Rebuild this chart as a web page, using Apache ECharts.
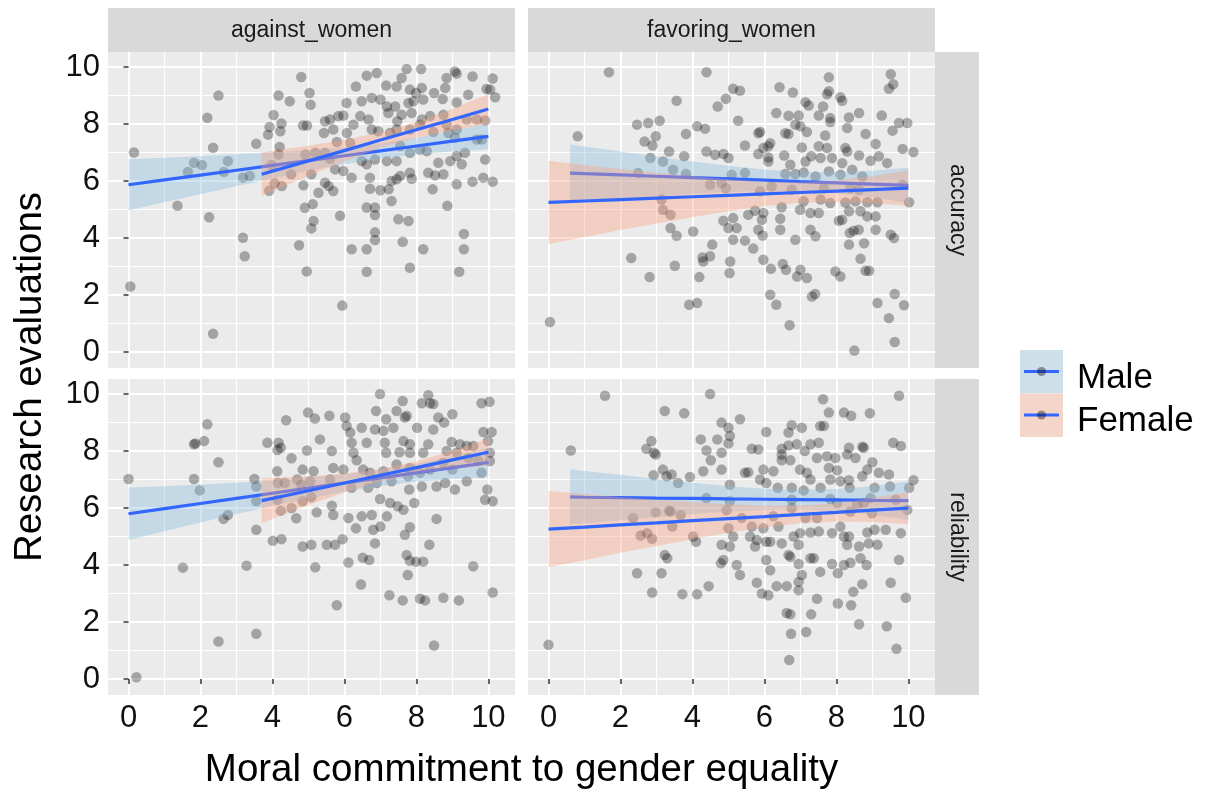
<!DOCTYPE html>
<html>
<head>
<meta charset="utf-8">
<script src="https://cdn.jsdelivr.net/npm/echarts@6/dist/echarts.min.js"></script>
<style>
  html, body { margin: 0; padding: 0; background: #ffffff; }
  #chart { width: 1207px; height: 793px; }
</style>
</head>
<body>
<div id="chart"></div>
<script>
// ---------------- DATA ----------------
const colFacets = ['against_women', 'favoring_women'];
const rowFacets = ['accuracy', 'reliability'];
const legendLabels = ['Male', 'Female'];
const tickValues = [0, 2, 4, 6, 8, 10];
const xTitle = 'Moral commitment to gender equality';
const yTitle = 'Research evaluations';

// scatter points [moral commitment, evaluation]
const ptsAccAgainst = [
[0.15,7.0],[0.05,2.3],[1.36,5.13],[2.19,8.22],[2.5,9.0],[2.35,7.17],[1.82,6.64],[1.65,6.32],[2.04,6.56],[2.24,4.73],[2.35,0.64],[2.65,6.32],[2.76,6.7],[3.18,6.12],[3.37,6.18],[3.18,4.01],[3.23,3.36],[3.55,7.31],[3.88,7.63],[3.92,7.9],[4.03,8.32],[4.17,9.0],[4.48,8.8],[4.8,9.65],[4.25,8.02],[4.22,7.75],[4.2,7.2],[4.17,6.93],[3.98,6.56],[4.06,5.92],[3.91,5.66],[4.26,5.83],[4.52,6.24],[4.85,7.95],[4.96,7.95],[4.86,5.85],[4.9,5.06],[4.74,3.75],[4.95,2.83],[4.92,6.93],[5.03,9.09],[5.06,8.68],[5.08,6.24],[5.08,4.34],
[7.73,9.93],[8.13,9.93],[7.59,9.62],[6.62,9.7],[6.9,9.79],[6.32,9.32],[7.16,9.35],[7.45,9.32],[7.82,9.21],[7.99,9.09],[8.15,9.27],[8.84,9.62],[9.12,9.77],[9.07,9.85],[9.56,9.67],[10.12,9.6],[9.95,9.23],[10.05,9.21],[10.19,8.94],[8.8,9.27],[8.49,9.09],[8.73,8.88],[9.44,9.03],[9.12,8.76],
[6.06,8.74],[6.48,8.8],[6.76,8.92],[7.0,8.86],[7.18,8.62],[7.41,8.62],[7.78,8.74],[8.19,8.86],[7.92,8.8],
[5.46,8.1],[5.6,8.16],[5.83,8.28],[5.97,8.3],[6.25,7.98],[6.44,8.28],[6.67,8.16],[6.76,7.81],[7.22,8.39],[7.47,8.1],[7.59,8.33],[7.87,8.39],[8.15,8.16],[8.38,8.28],[8.75,8.33],
[5.43,7.69],[5.69,7.81],[6.07,7.69],[6.94,7.75],[7.27,7.69],[7.45,7.81],[7.82,7.81],[8.1,7.98],[8.47,7.72],[8.84,7.98],[9.12,7.81],[9.4,8.16],[9.68,8.16],[9.91,8.13],[8.89,7.69],[9.07,7.52],
[5.79,7.37],[6.16,7.34],[5.19,6.99],[5.46,6.99],[5.6,6.78],[5.74,6.41],[5.97,6.35],[6.2,6.12],[6.48,6.7],[6.62,6.59],[6.85,6.76],[7.18,6.7],[7.45,6.7],[7.55,7.23],[7.82,6.99],[8.1,7.11],[8.29,7.05],[8.61,6.64],[8.94,6.7],[9.12,6.88],[9.26,6.59],[9.35,6.99],[9.91,6.76],[9.68,7.46],[9.82,7.46],
[5.46,5.94],[5.56,5.83],[5.69,5.65],[5.28,5.59],[5.12,5.19],[6.71,6.12],[6.71,5.73],[7.0,5.68],[7.23,5.71],[7.31,6.0],[7.45,6.06],[7.55,6.18],[7.87,6.08],[7.82,6.29],[8.33,6.29],[8.52,6.2],[8.75,6.24],[9.12,5.89],[9.56,5.98],[9.86,6.12],[10.12,5.98],[8.45,5.71],[7.31,5.3],
[5.88,4.78],[5.14,4.6],[6.62,5.07],[6.85,5.07],[6.85,4.81],[7.5,4.66],[7.78,4.6],[8.86,5.13],[6.85,4.2],[6.85,3.93],[7.62,3.87],[6.2,3.61],[6.62,3.61],[8.19,3.61],[9.32,4.14],[9.32,3.61],[6.62,2.82],[7.82,2.96],[9.19,2.82],[5.94,1.63]
];

const ptsRelAgainst = [
[0.0,7.02],[0.22,0.06],[1.51,3.91],[2.19,8.94],[1.86,8.27],[1.82,8.24],[2.1,8.35],[2.5,7.61],[1.82,7.02],[1.98,6.62],[2.64,5.62],[2.76,5.76],[2.5,1.32],[3.28,3.98],[3.55,1.59],[3.5,7.02],[3.55,6.76],[3.55,6.24],[3.55,5.24],[3.86,8.29],[4.17,8.29],[4.14,8.04],[4.23,8.12],[4.38,9.08],[4.53,7.75],[4.13,7.29],[4.84,7.35],[4.96,8.02],[4.99,9.35],[4.15,6.88],[4.34,6.88],[4.69,7.0],[4.8,6.82],[4.14,6.29],[4.23,5.91],[4.53,6.0],[4.66,5.64],[4.84,6.24],[4.01,4.85],[4.25,4.91],[4.84,4.65],[5.08,4.71],[5.08,6.39],
[6.99,10.0],[8.33,9.96],[8.38,9.68],[7.62,9.76],[8.15,9.68],[8.47,9.65],[9.81,9.68],[10.03,9.73],[6.88,9.41],[7.45,9.41],[7.16,9.12],[7.68,9.18],[7.73,9.24],[8.61,9.18],[9.0,9.29],[8.77,9.0],[5.58,9.24],[5.18,9.14],[6.02,9.18],[6.06,8.88],[6.48,8.82],[6.85,8.76],[7.08,8.71],[7.36,8.82],[8.02,8.82],[8.47,8.76],[6.16,8.65],[9.86,8.67],[10.09,8.67],[5.32,8.41],
[6.2,8.29],[6.62,8.29],[7.12,8.29],[7.64,8.35],[7.82,8.24],[8.33,8.24],[8.98,8.32],[9.21,8.24],[9.4,8.18],[9.58,8.18],[9.99,8.35],[5.65,8.0],[6.25,7.94],[7.16,7.94],[7.53,7.96],[7.82,7.94],[8.19,7.94],[8.84,8.0],[9.12,7.94],[10.04,7.94],[6.34,7.68],
[5.14,7.29],[5.69,7.41],[5.97,7.35],[6.52,7.35],[6.71,7.24],[7.08,7.29],[7.45,7.53],[7.82,7.41],[8.1,7.24],[8.38,7.35],[8.75,7.59],[9.0,7.35],[9.44,7.76],[9.72,7.65],[10.04,7.65],[9.81,7.24],[5.05,6.94],[5.6,7.0],[6.2,6.71],[6.66,6.71],[6.9,6.88],[7.31,6.94],[7.77,7.12],[7.8,6.65],[8.15,6.76],[8.56,6.76],[8.8,6.88],[9.07,6.65],[9.4,6.94],[9.97,6.65],[9.91,6.29],[10.12,6.24],[6.99,6.32],
[5.23,5.85],[5.65,6.08],[5.69,5.76],[6.11,5.65],[6.48,5.71],[6.76,5.76],[6.32,5.29],[6.8,5.24],[7.0,5.35],[7.18,5.71],[7.27,6.18],[7.48,6.06],[7.64,5.94],[7.94,6.18],[8.56,5.62],[7.82,5.33],[7.68,5.06],
[5.51,4.71],[5.74,4.71],[5.95,4.91],[6.85,4.76],[8.36,4.71],[5.19,3.92],[6.11,4.09],[6.51,4.26],[6.69,4.18],[7.73,4.35],[7.82,4.15],[7.99,4.12],[8.19,4.12],[7.76,3.65],[9.58,3.96],[6.46,3.32],[5.79,2.59],[7.25,2.94],[7.62,2.76],[8.1,2.82],[8.24,2.76],[8.75,2.85],[9.18,2.76],[10.12,3.04],[8.49,1.18]
];

const ptsAccFavoring = [
[0.04,1.05],[1.68,9.82],[0.81,7.57],[4.39,9.82],[3.56,8.82],[4.7,8.62],[4.93,8.89],[2.46,7.98],[2.77,8.04],[3.09,8.12],[3.82,7.65],[4.13,7.92],[4.35,7.84],[2.67,7.39],[2.89,7.25],[2.98,7.57],[2.83,6.81],[3.18,6.69],[3.35,7.04],[3.77,6.87],[4.39,7.04],[4.63,6.92],[4.86,6.95],[5.0,6.81],[2.49,6.28],[3.46,6.4],[3.82,6.25],[4.49,5.87],[4.81,5.93],[4.93,5.75],[3.14,5.35],[3.18,4.99],[3.39,4.82],[3.39,4.35],[3.56,4.08],[4.02,4.23],[4.86,4.61],[5.0,4.35],[4.55,3.77],[4.49,3.36],[4.28,3.32],[4.3,3.18],[2.3,3.3],[3.51,3.03],[2.81,2.63],[4.19,2.63],[3.91,1.66],[4.13,1.72],[5.03,2.77],[5.05,3.18],
[7.79,9.64],[9.51,9.75],[9.46,9.24],[9.58,9.4],[6.42,9.29],[6.79,9.11],[5.13,9.24],[5.32,9.17],[7.74,9.05],[7.79,9.15],[8.11,8.94],[8.16,8.82],[7.14,8.77],[7.23,8.65],[7.63,8.62],[6.33,8.39],[6.67,8.29],[6.95,8.3],[7.51,8.3],[7.83,8.21],[8.35,8.23],[8.63,8.39],[9.26,8.3],[5.27,8.12],[6.86,7.98],[7.0,7.92],[7.83,8.07],[8.3,7.86],[9.74,8.04],[9.97,8.04],[9.56,7.77],[5.83,7.68],[5.88,7.72],[6.58,7.68],[6.67,7.65],[7.18,7.72],[7.69,7.6],[8.81,7.65],[6.16,7.33],[6.11,7.22],[5.46,7.25],[5.97,7.16],[7.04,7.18],[7.51,7.22],[7.74,7.16],[8.25,7.16],[9.09,7.3],[9.84,7.13],[10.14,7.02],[5.83,6.95],[6.11,6.83],[6.55,6.9],[7.3,6.87],[7.56,6.81],[7.88,6.81],[8.3,7.04],[8.63,6.9],[8.95,6.71],[9.18,6.87],[9.41,6.63],[6.11,6.69],[6.72,6.57],[7.14,6.69],[8.16,6.63],
[5.46,6.28],[6.58,6.25],[6.86,6.25],[7.09,6.3],[7.42,6.16],[7.79,6.34],[8.11,6.22],[8.44,6.4],[8.72,6.16],[5.09,6.22],[5.88,5.64],[6.2,5.81],[6.76,5.7],[7.65,5.75],[8.39,5.75],[8.63,5.7],[9.84,5.87],[10.02,5.26],[7.09,5.29],[7.56,5.35],[7.83,5.23],[8.25,5.25],[8.53,5.29],[8.86,5.26],[9.14,5.26],
[5.74,4.96],[5.97,4.88],[6.48,5.08],[6.99,4.99],[7.28,4.88],[7.51,4.88],[5.55,4.82],[5.13,4.7],[5.93,4.64],[6.44,4.68],[8.07,4.61],[8.16,4.64],[8.35,4.94],[8.67,4.94],[8.86,4.76],[9.09,4.76],[5.23,4.35],[5.83,4.29],[6.44,4.29],[7.28,4.29],[8.37,4.18],[8.48,4.26],[8.62,4.29],[9.09,4.29],[5.13,3.94],[5.46,3.91],[5.95,4.09],[6.86,3.94],[7.42,4.06],[8.35,3.77],[8.77,3.82],[9.51,4.12],[9.6,4.0],[5.69,3.63],[5.97,3.24],[6.18,2.92],[6.51,3.09],[6.6,2.89],[6.91,2.65],[7.0,2.89],[7.18,2.6],[7.97,2.83],[8.11,2.65],[8.67,3.27],[8.81,2.85],[8.91,2.85],[6.16,2.01],[6.33,1.66],[7.32,1.95],[7.41,2.04],[6.7,0.94],[8.5,0.05],[9.14,1.72],[9.62,2.04],[9.88,1.64],[9.46,1.19],[9.62,0.35]
];

const ptsRelFavoring = [
[0.0,1.2],[0.62,8.02],[1.57,9.94],[3.23,9.41],[3.77,9.33],[4.49,10.0],[4.81,9.0],[5.0,8.82],[2.86,8.35],[2.72,8.08],[2.93,7.94],[2.98,7.88],[4.23,8.41],[4.69,8.41],[4.39,8.02],[4.51,7.68],[4.81,7.94],[5.0,8.27],[2.92,7.15],[3.18,7.35],[3.28,7.12],[3.42,7.18],[3.6,6.88],[3.93,7.09],[4.3,7.29],[4.81,7.35],[4.39,6.35],[2.35,5.65],[2.98,5.85],[3.35,5.91],[3.39,5.88],[3.67,5.76],[3.44,5.35],[2.56,5.04],[2.74,5.12],[2.88,4.92],[4.02,5.0],[4.1,4.82],[4.95,5.92],[5.0,5.29],[4.81,4.71],[3.23,4.35],[3.3,4.24],[4.79,4.06],[4.86,4.18],[2.46,3.71],[3.14,3.71],[2.88,3.04],[3.72,2.98],[4.13,2.98],[4.45,3.26],
[7.63,9.82],[9.74,9.94],[7.79,9.35],[8.21,9.35],[8.41,9.24],[8.93,9.33],[5.32,9.12],[5.04,8.53],[6.05,8.67],[6.76,8.91],[7.04,8.82],[7.55,8.88],[7.65,8.88],[6.67,8.65],[5.65,8.08],[5.83,8.06],[6.48,8.08],[6.67,8.2],[6.9,8.24],[7.28,8.24],[7.51,8.29],[8.72,8.15],[8.76,8.12],[8.35,8.12],[9.58,8.29],[9.79,8.18],[6.48,7.88],[7.12,8.0],[8.3,7.88],[8.53,7.76],[6.48,7.68],[6.72,7.68],[7.46,7.76],[7.74,7.82],[7.97,7.76],[9.0,7.61],[5.97,7.35],[6.25,7.29],[5.46,7.24],[5.55,7.26],[6.99,7.35],[7.18,7.24],[7.79,7.41],[8.02,7.33],[8.86,7.35],[9.18,7.24],[9.46,7.18],[5.04,6.82],[5.88,7.0],[6.05,6.88],[6.37,6.71],[6.76,6.71],[7.09,6.62],[7.28,7.0],[7.56,6.71],[7.83,7.0],[8.11,6.94],[8.37,6.71],[8.35,6.98],[8.72,7.12],[9.06,6.71],[9.49,6.76],[10.02,6.71],[10.14,6.98],
[5.04,6.24],[5.37,5.65],[6.25,5.71],[6.76,6.29],[6.76,6.0],[7.14,5.65],[7.46,5.65],[7.83,6.32],[8.02,6.18],[8.39,5.88],[8.58,6.12],[8.76,6.18],[8.99,5.82],[9.65,6.29],[9.97,5.94],[8.95,6.35],
[5.65,5.35],[5.97,5.29],[6.39,5.35],[8.11,5.35],[9.06,5.24],[9.37,5.24],[5.13,5.0],[5.6,5.0],[5.79,4.88],[6.05,4.82],[6.16,4.82],[6.48,4.76],[6.81,5.0],[6.99,5.12],[7.28,5.14],[7.51,5.18],[7.88,5.12],[8.21,5.0],[8.35,5.0],[8.86,5.14],[8.9,4.76],[9.14,4.71],[9.79,5.12],[5.04,4.65],[5.74,4.65],[6.95,4.71],[8.3,4.71],[8.63,4.65],
[5.23,4.0],[6.05,4.18],[6.67,4.35],[6.72,4.29],[7.28,4.24],[7.37,4.24],[6.95,4.04],[7.88,4.04],[8.21,4.0],[8.39,4.08],[8.67,4.24],[8.84,4.0],[9.74,4.18],[5.32,3.65],[6.16,3.82],[7.04,3.65],[7.55,3.76],[8.04,3.71],[5.79,3.38],[6.34,3.26],[6.62,3.26],[6.95,3.41],[8.72,3.33],[9.51,3.38],[5.93,3.0],[6.11,2.94],[6.95,3.12],[8.47,3.06],[7.46,2.82],[8.04,2.65],[8.41,2.59],[9.93,2.85],[6.62,2.32],[6.72,2.27],[7.3,2.27],[8.63,1.92],[9.4,1.85],[6.74,1.59],[7.16,1.65],[9.67,1.06],[6.69,0.67]
];

// smooth fits (x stops, fitted value, lower / upper confidence band)
const xFull = [0,1,2,3,4,5,6,7,8,9,10];
const xFemaleAgainst = [3.7,4,5,6,7,8,9,10];
const xMaleFavoring = [0.6,1,2,3,4,5,6,7,8,9,10];

const accAgainstMaleFit = [5.87,6.04,6.21,6.38,6.55,6.72,6.89,7.06,7.23,7.40,7.57];
const accAgainstMaleHi  = [6.77,6.82,6.88,6.94,7.01,7.08,7.19,7.33,7.53,7.76,8.03];
const accAgainstMaleLo  = [4.97,5.26,5.54,5.82,6.09,6.36,6.59,6.79,6.93,7.04,7.11];
const accAgainstFemaleFit = [6.24,6.35,6.71,7.07,7.44,7.80,8.16,8.53];
const accAgainstFemaleHi  = [7.00,7.06,7.24,7.45,7.71,8.07,8.54,9.06];
const accAgainstFemaleLo  = [5.48,5.64,6.18,6.69,7.17,7.53,7.78,8.00];

const relAgainstMaleFit = [5.80,5.98,6.16,6.34,6.52,6.70,6.88,7.06,7.24,7.42,7.60];
const relAgainstMaleHi  = [6.72,6.77,6.83,6.89,6.97,7.07,7.19,7.35,7.56,7.82,8.12];
const relAgainstMaleLo  = [4.88,5.19,5.49,5.79,6.07,6.33,6.57,6.77,6.92,7.02,7.08];
const relAgainstFemaleFit = [6.26,6.34,6.61,6.88,7.15,7.42,7.69,7.96];
const relAgainstFemaleHi  = [7.05,7.06,7.11,7.21,7.37,7.64,8.01,8.43];
const relAgainstFemaleLo  = [5.47,5.62,6.11,6.55,6.93,7.20,7.37,7.49];

const accFavoringMaleFit = [6.28,6.26,6.22,6.17,6.12,6.08,6.03,5.98,5.94,5.89,5.85];
const accFavoringMaleHi  = [7.28,7.21,7.04,6.86,6.69,6.54,6.41,6.32,6.31,6.36,6.47];
const accFavoringMaleLo  = [5.28,5.31,5.40,5.48,5.55,5.62,5.65,5.64,5.57,5.42,5.23];
const accFavoringFemaleFit = [5.25,5.30,5.35,5.40,5.45,5.50,5.55,5.60,5.65,5.70,5.75];
const accFavoringFemaleHi  = [6.71,6.56,6.42,6.29,6.17,6.06,5.98,5.96,6.03,6.18,6.37];
const accFavoringFemaleLo  = [3.79,4.04,4.28,4.51,4.73,4.94,5.12,5.24,5.27,5.22,5.13];

const relFavoringMaleFit = [6.39,6.38,6.37,6.35,6.34,6.32,6.31,6.30,6.29,6.27,6.26];
const relFavoringMaleHi  = [7.36,7.30,7.17,7.02,6.89,6.77,6.68,6.64,6.67,6.77,6.94];
const relFavoringMaleLo  = [5.42,5.46,5.57,5.68,5.79,5.87,5.94,5.96,5.91,5.77,5.58];
const relFavoringFemaleFit = [5.26,5.33,5.41,5.48,5.56,5.63,5.70,5.78,5.85,5.93,6.00];
const relFavoringFemaleHi  = [6.60,6.49,6.39,6.29,6.21,6.13,6.08,6.09,6.17,6.35,6.57];
const relFavoringFemaleLo  = [3.92,4.17,4.43,4.67,4.91,5.13,5.32,5.47,5.53,5.51,5.43];

// ---------------- STYLE / LAYOUT ----------------
const FONT = '"Liberation Sans", Arial, Helvetica, sans-serif';
const LINE_COLOR = '#3366FF';
const MALE_FILL = 'rgba(135,190,220,0.38)';
const FEMALE_FILL = 'rgba(250,160,130,0.38)';
const POINT_COLOR = 'rgba(0,0,0,0.38)';
const PANEL_W = 407, PANEL_H = 316;
const panelLeft = [108, 528];
const panelTop = [52, 379];
const X_MIN = -0.57, X_MAX = 10.74, Y_MIN = -0.56, Y_MAX = 10.53;
const TICK_FONT = 31;
const LINE_W = 3.2;

const chart = echarts.init(document.getElementById('chart'), null, {renderer: 'canvas'});

const grids = [], xAxes = [], yAxes = [], series = [];

const panels = [
  {row: 0, col: 0, pts: ptsAccAgainst,
   male: [xFull, accAgainstMaleFit, accAgainstMaleLo, accAgainstMaleHi],
   female: [xFemaleAgainst, accAgainstFemaleFit, accAgainstFemaleLo, accAgainstFemaleHi]},
  {row: 0, col: 1, pts: ptsAccFavoring,
   male: [xMaleFavoring, accFavoringMaleFit, accFavoringMaleLo, accFavoringMaleHi],
   female: [xFull, accFavoringFemaleFit, accFavoringFemaleLo, accFavoringFemaleHi]},
  {row: 1, col: 0, pts: ptsRelAgainst,
   male: [xFull, relAgainstMaleFit, relAgainstMaleLo, relAgainstMaleHi],
   female: [xFemaleAgainst, relAgainstFemaleFit, relAgainstFemaleLo, relAgainstFemaleHi]},
  {row: 1, col: 1, pts: ptsRelFavoring,
   male: [xMaleFavoring, relFavoringMaleFit, relFavoringMaleLo, relFavoringMaleHi],
   female: [xFull, relFavoringFemaleFit, relFavoringFemaleLo, relFavoringFemaleHi]}
];

function bandSeries(idx, xs, lo, hi, color, z) {
  return {
    type: 'custom', xAxisIndex: idx, yAxisIndex: idx, z: z, silent: true,
    data: xs.map((x, i) => [x, lo[i], hi[i]]),
    encode: {x: 0, y: [1, 2]},
    renderItem: function (params, api) {
      if (params.dataIndex !== 0) return null;
      const pts = [];
      for (let i = 0; i < xs.length; i++) pts.push(api.coord([xs[i], hi[i]]));
      for (let i = xs.length - 1; i >= 0; i--) pts.push(api.coord([xs[i], lo[i]]));
      return {type: 'polygon', shape: {points: pts}, style: {fill: color}};
    }
  };
}
function fitSeries(idx, xs, fit, z) {
  return {
    type: 'line', xAxisIndex: idx, yAxisIndex: idx, z: z, silent: true,
    data: xs.map((x, i) => [x, fit[i]]),
    showSymbol: false, symbol: 'none',
    lineStyle: {color: LINE_COLOR, width: LINE_W}
  };
}

panels.forEach((p, idx) => {
  const bottom = p.row === 1;
  const left = p.col === 0;
  grids.push({left: panelLeft[p.col], top: panelTop[p.row], width: PANEL_W, height: PANEL_H,
              show: true, backgroundColor: '#EBEBEB', borderWidth: 0, containLabel: false});
  xAxes.push({
    type: 'value', gridIndex: idx, min: X_MIN, max: X_MAX,
    axisLine: {show: false},
    axisTick: {show: bottom, customValues: tickValues, length: 5, lineStyle: {color: '#333333', width: 1.5}},
    axisLabel: {show: bottom, customValues: tickValues, fontSize: TICK_FONT, color: '#111111', fontFamily: FONT, margin: 8},
    splitLine: {show: true, lineStyle: {color: '#FFFFFF', width: 2}},
    minorTick: {show: false, splitNumber: 2},
    minorSplitLine: {show: true, lineStyle: {color: '#FFFFFF', width: 1.2}}
  });
  yAxes.push({
    type: 'value', gridIndex: idx, min: Y_MIN, max: Y_MAX,
    axisLine: {show: false},
    axisTick: {show: left, customValues: tickValues, length: 5, lineStyle: {color: '#333333', width: 1.5}},
    axisLabel: {show: left, customValues: tickValues, fontSize: TICK_FONT, color: '#111111', fontFamily: FONT, margin: 8},
    splitLine: {show: true, lineStyle: {color: '#FFFFFF', width: 2}},
    minorTick: {show: false, splitNumber: 2},
    minorSplitLine: {show: true, lineStyle: {color: '#FFFFFF', width: 1.2}}
  });
  series.push({
    type: 'scatter', xAxisIndex: idx, yAxisIndex: idx, z: 2, silent: true,
    data: p.pts, symbolSize: 10.5,
    itemStyle: {color: POINT_COLOR, borderWidth: 0}
  });
  series.push(bandSeries(idx, p.male[0], p.male[2], p.male[3], MALE_FILL, 3));
  series.push(fitSeries(idx, p.male[0], p.male[1], 4));
  series.push(bandSeries(idx, p.female[0], p.female[2], p.female[3], FEMALE_FILL, 5));
  series.push(fitSeries(idx, p.female[0], p.female[1], 6));
});

// strips, titles, legend
const STRIP = '#D9D9D9';
const graphics = [];
colFacets.forEach((name, c) => {
  graphics.push({type: 'rect', shape: {x: panelLeft[c], y: 8, width: PANEL_W, height: 44}, style: {fill: STRIP}, silent: true});
  graphics.push({type: 'text', x: panelLeft[c] + PANEL_W / 2, y: 31,
    style: {text: name, font: '23px ' + FONT, fill: '#1A1A1A', textAlign: 'center', textVerticalAlign: 'middle', verticalAlign: 'middle'}, silent: true});
});
rowFacets.forEach((name, r) => {
  graphics.push({type: 'rect', shape: {x: panelLeft[1] + PANEL_W, y: panelTop[r], width: 44, height: PANEL_H}, style: {fill: STRIP}, silent: true});
  graphics.push({type: 'text', x: panelLeft[1] + PANEL_W + 22, y: panelTop[r] + PANEL_H / 2, rotation: -Math.PI / 2,
    style: {text: name, font: '23px ' + FONT, fill: '#1A1A1A', textAlign: 'center', textVerticalAlign: 'middle', verticalAlign: 'middle'}, silent: true});
});
graphics.push({type: 'text', x: (panelLeft[0] + panelLeft[1] + PANEL_W) / 2, y: 770,
  style: {text: xTitle, font: '38.5px ' + FONT, fill: '#000000', textAlign: 'center', textVerticalAlign: 'middle', verticalAlign: 'middle'}, silent: true});
graphics.push({type: 'text', x: 30, y: 377, rotation: Math.PI / 2,
  style: {text: yTitle, font: '38.5px ' + FONT, fill: '#000000', textAlign: 'center', textVerticalAlign: 'middle', verticalAlign: 'middle'}, silent: true});

const keyFills = ['#CDE0EA', '#F3D5CA'];
legendLabels.forEach((name, i) => {
  const ky = 350 + i * 43.5;
  graphics.push({type: 'rect', shape: {x: 1020, y: ky, width: 43, height: 43.5}, style: {fill: keyFills[i]}, silent: true});
  graphics.push({type: 'line', shape: {x1: 1024, y1: ky + 21.5, x2: 1059, y2: ky + 21.5}, style: {stroke: LINE_COLOR, lineWidth: LINE_W}, silent: true});
  graphics.push({type: 'circle', shape: {cx: 1041.5, cy: ky + 21.5, r: 4.5}, style: {fill: POINT_COLOR}, silent: true});
  graphics.push({type: 'text', x: 1077, y: ky + 28,
    style: {text: name, font: '35px ' + FONT, fill: '#000000', textAlign: 'left', textVerticalAlign: 'middle', verticalAlign: 'middle'}, silent: true});
});

chart.setOption({
  animation: false,
  backgroundColor: '#FFFFFF',
  grid: grids,
  xAxis: xAxes,
  yAxis: yAxes,
  series: series,
  graphic: {elements: graphics}
});
</script>
</body>
</html>
